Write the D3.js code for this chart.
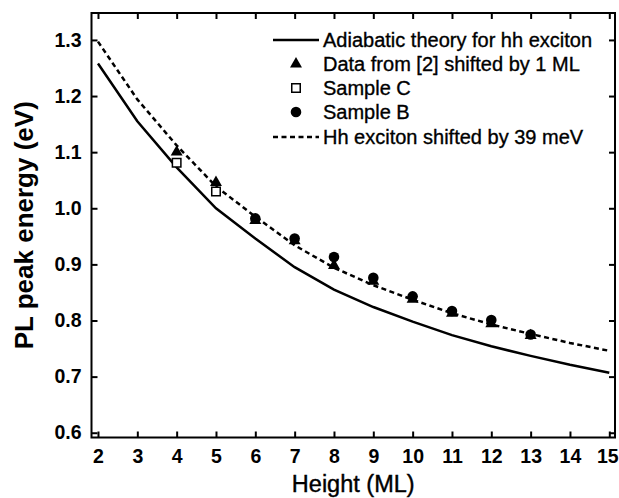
<!DOCTYPE html>
<html>
<head>
<meta charset="utf-8">
<script src="https://cdn.jsdelivr.net/npm/d3@7"></script>
<style>
  body { margin: 0; background: #fff; }
  svg { font-family: "Liberation Sans", Arial, sans-serif; }
</style>
</head>
<body>
<script>
// values
const heightML = [2, 3, 4, 5, 6, 7, 8, 9, 10, 11, 12, 13, 14, 15];
const adiabaticHh = [1.258, 1.155, 1.073, 1.000, 0.946, 0.895, 0.855, 0.824, 0.798, 0.774, 0.754, 0.737, 0.721, 0.707];
const hhShifted39 = [1.297, 1.194, 1.112, 1.039, 0.985, 0.934, 0.894, 0.863, 0.837, 0.813, 0.793, 0.776, 0.760, 0.746];

const ref2X = [4, 5, 6, 7, 8, 9, 10, 11, 12, 13];
const ref2Y = [1.100, 1.046, 0.978, 0.942, 0.898, 0.870, 0.838, 0.813, 0.794, 0.773];
const sampleCX = [4, 5];
const sampleCY = [1.081, 1.030];
const sampleBX = [6, 7, 8, 9, 10, 11, 12, 13];
const sampleBY = [0.982, 0.946, 0.913, 0.876, 0.843, 0.817, 0.801, 0.775];

const xTicks = [2, 3, 4, 5, 6, 7, 8, 9, 10, 11, 12, 13, 14, 15];
const yTicks = [0.6, 0.7, 0.8, 0.9, 1.0, 1.1, 1.2, 1.3];

const legendLabels = ["Adiabatic theory for hh exciton", "Data from [2] shifted by 1 ML",
  "Sample C", "Sample B", "Hh exciton shifted by 39 meV"];

const W = 619, H = 498;
const plot = { left: 91.5, right: 615, top: 13, bottom: 437.5 };

const svg = d3.select("body").append("svg")
  .attr("width", W)
  .attr("height", H);

const x = d3.scaleLinear().domain([1.835, 15.145]).range([plot.left, plot.right]);
const y = d3.scaleLinear().domain([0.5915, 1.348]).range([plot.bottom, plot.top]);

// axes, ticks pointing inward on all four sides
const tickLen = 6;
function styleAxis(g) {
  g.select(".domain").remove();
  g.selectAll(".tick line").attr("stroke", "#000").attr("stroke-width", 2);
  g.selectAll(".tick text").attr("fill", "#000")
    .style("font-size", "19.5px").style("font-weight", "bold");
}

const xAxisG = svg.append("g")
  .attr("transform", `translate(0,${plot.bottom})`)
  .call(d3.axisBottom(x).tickValues(xTicks).tickSizeInner(-tickLen).tickSizeOuter(0).tickPadding(12))
  .call(styleAxis);
// last label sits right at the page edge; nudge it in
xAxisG.selectAll(".tick text").filter(d => d === 15).attr("dx", -2);

svg.append("g")
  .attr("transform", `translate(0,${plot.top})`)
  .call(d3.axisTop(x).tickValues(xTicks).tickSizeInner(-tickLen).tickSizeOuter(0).tickFormat(""))
  .call(styleAxis);

svg.append("g")
  .attr("transform", `translate(${plot.left},0)`)
  .call(d3.axisLeft(y).tickValues(yTicks).tickSizeInner(-tickLen).tickSizeOuter(0).tickPadding(10).tickFormat(d3.format(".1f")))
  .call(styleAxis);

svg.append("g")
  .attr("transform", `translate(${plot.right},0)`)
  .call(d3.axisRight(y).tickValues(yTicks).tickSizeInner(-tickLen).tickSizeOuter(0).tickFormat(""))
  .call(styleAxis);

// frame
svg.append("rect")
  .attr("x", plot.left)
  .attr("y", plot.top)
  .attr("width", plot.right - plot.left)
  .attr("height", plot.bottom - plot.top)
  .attr("fill", "none")
  .attr("stroke", "#000")
  .attr("stroke-width", 2);

// axis titles
svg.append("text")
  .attr("x", (plot.left + plot.right) / 2)
  .attr("y", 492)
  .attr("text-anchor", "middle")
  .attr("stroke", "#000")
  .attr("stroke-width", 0.4)
  .style("font-size", "23.5px")
  .text("Height (ML)");

svg.append("text")
  .attr("transform", `translate(33,${(plot.top + plot.bottom) / 2}) rotate(-90)`)
  .attr("text-anchor", "middle")
  .style("font-size", "26px")
  .style("font-weight", "bold")
  .text("PL peak energy (eV)");

// curves
const line = d3.line()
  .x((d, i) => x(heightML[i]))
  .y(d => y(d));

svg.append("path")
  .datum(adiabaticHh)
  .attr("d", line)
  .attr("fill", "none")
  .attr("stroke", "#000")
  .attr("stroke-width", 2.5);

svg.append("path")
  .datum(hhShifted39)
  .attr("d", line)
  .attr("fill", "none")
  .attr("stroke", "#000")
  .attr("stroke-width", 2.5)
  .attr("stroke-dasharray", "5,3.5");

// markers
const triangle = d3.symbol().type(d3.symbolTriangle).size(62);
const square = d3.symbol().type(d3.symbolSquare).size(72);
const circle = d3.symbol().type(d3.symbolCircle).size(88);

svg.append("g").selectAll("path")
  .data(sampleCY)
  .join("path")
  .attr("d", square)
  .attr("transform", (d, i) => `translate(${x(sampleCX[i])},${y(d)})`)
  .attr("fill", "#fff")
  .attr("stroke", "#000")
  .attr("stroke-width", 1.5);

svg.append("g").selectAll("path")
  .data(ref2Y)
  .join("path")
  .attr("d", triangle)
  .attr("transform", (d, i) => `translate(${x(ref2X[i])},${y(d)})`)
  .attr("fill", "#000");

svg.append("g").selectAll("path")
  .data(sampleBY)
  .join("path")
  .attr("d", circle)
  .attr("transform", (d, i) => `translate(${x(sampleBX[i])},${y(d)})`)
  .attr("fill", "#000");

// legend
const legend = svg.append("g");
const rowY = [40, 64, 88, 112, 137];
const symX = 296, textX = 323;

legend.selectAll("text")
  .data(legendLabels)
  .join("text")
  .attr("x", textX)
  .attr("y", (d, i) => rowY[i])
  .attr("dy", "0.35em")
  .attr("stroke", "#000")
  .attr("stroke-width", 0.35)
  .style("font-size", "20px")
  .text(d => d);

legend.append("line")
  .attr("x1", 273).attr("x2", 319)
  .attr("y1", rowY[0]).attr("y2", rowY[0])
  .attr("stroke", "#000").attr("stroke-width", 2.5);

legend.append("path")
  .attr("d", triangle)
  .attr("transform", `translate(${symX},${rowY[1]})`)
  .attr("fill", "#000");

legend.append("path")
  .attr("d", square)
  .attr("transform", `translate(${symX},${rowY[2]})`)
  .attr("fill", "#fff").attr("stroke", "#000").attr("stroke-width", 1.5);

legend.append("path")
  .attr("d", circle)
  .attr("transform", `translate(${symX},${rowY[3]})`)
  .attr("fill", "#000");

legend.append("line")
  .attr("x1", 273).attr("x2", 319)
  .attr("y1", rowY[4]).attr("y2", rowY[4])
  .attr("stroke", "#000").attr("stroke-width", 2.5)
  .attr("stroke-dasharray", "5,3.5");
</script>
</body>
</html>
